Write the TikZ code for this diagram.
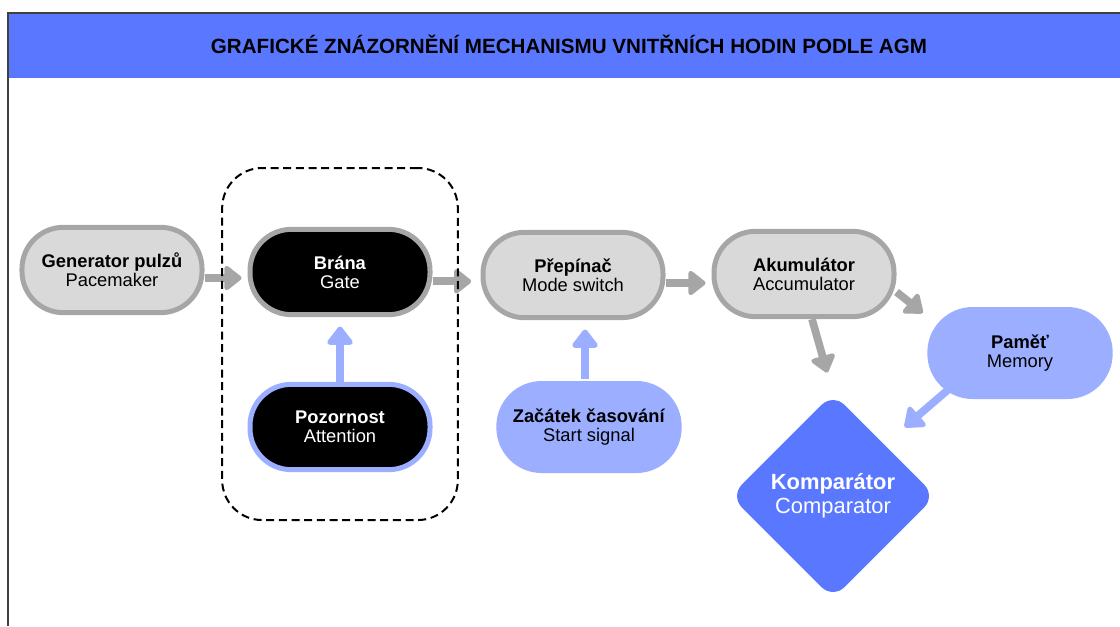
\documentclass[tikz,border=0pt]{standalone}
\usepackage{fontspec}
\setmainfont{Liberation Sans}
\usetikzlibrary{positioning,shapes.geometric,arrows.meta,fit,backgrounds}

\definecolor{agmblue}{HTML}{5A78FF}
\definecolor{agmlight}{HTML}{9BAEFF}
\definecolor{agmgray}{HTML}{D9D9D9}
\definecolor{agmedge}{HTML}{A6A6A6}

\begin{document}
\begin{tikzpicture}[x=0.75bp,y=-0.75bp,
                every node/.style={align=center,font=\fontsize{13.8}{14.5}\selectfont},
                box/.style={rectangle,rounded corners=31bp,minimum width=135bp,minimum height=64bp,line width=3.75bp,inner sep=0pt},
                greybox/.style={box,draw=agmedge,fill=agmgray},
                blackbox/.style={box,fill=black,text=white},
                softbox/.style={box,fill=agmlight,minimum width=139bp,minimum height=69bp,rounded corners=34bp},
                arr/.style={-{Triangle[length=14bp,width=21bp,round]},line width=5.8bp,draw=agmedge,line join=round},
                softarr/.style={arr,draw=agmlight,-{Triangle[length=15bp,width=22bp,round]}}]
            \useasboundingbox (0,0) rectangle (1120,626);
            \fill[agmblue] (8,13) rectangle (1120,78);
            \draw[line width=1bp,black!75] (8,626) -- (8,13) -- (1120,13);
            \node[font=\bfseries\fontsize{15.5}{18}\selectfont] (title) at (569,44) {GRAFICKÉ ZNÁZORNĚNÍ MECHANISMU VNITŘNÍCH HODIN PODLE AGM};

            \node[greybox] (gen) at (112,270) {\textbf{Generator pulzů}\\Pacemaker};
            \node[blackbox,draw=agmedge] (gate) at (340,272) {\textbf{Brána}\\Gate};
            \node[blackbox,draw=agmlight] (att) at (340,427) {\textbf{Pozornost}\\Attention};
            \node[greybox] (sw) at (573,275) {\textbf{Přepínač}\\Mode switch};
            \node[softbox] (start) at (589,427) {\textbf{Začátek časování}\\Start signal};
            \node[greybox] (acc) at (804,274) {\textbf{Akumulátor}\\Accumulator};
            \node[softbox] (mem) at (1020,353) {\textbf{Paměť}\\Memory};
            \node[diamond,aspect=1,minimum width=154bp,minimum height=154bp,inner sep=0pt,rounded corners=12bp,fill=agmblue,text=white,
                  font=\fontsize{16.5}{18}\selectfont] (comp) at (833,496) {\textbf{Komparátor}\\Comparator};

            \begin{scope}[on background layer]
                \draw[arr,shorten >=4.5bp] ([yshift=-6bp]gen.east) -- ([yshift=-6bp]gen.east -| gate.west);
                \draw[arr,shorten >=7bp] ([yshift=-7bp]gate.east) -- ([yshift=-7bp]gate.east -| sw.west);
                \draw[arr,shorten >=4.5bp] ([yshift=-6bp]sw.east) -- ([yshift=-6bp]sw.east -| acc.west);
                \draw[arr,shorten >=2bp] (acc.-11) -- (mem.158);
                \draw[arr,shorten >=16bp] ([xshift=6bp]acc.south) -- (comp.north);
                \draw[softarr,shorten >=7bp] (att.north) -- (gate.south);
                \draw[softarr,shorten >=7bp] ([xshift=-3bp]start.north) -- ([xshift=-3bp]start.north |- sw.south);
                \draw[softarr,shorten >=20bp] ([xshift=-22bp]mem.center) -- (comp.north east);
            \end{scope}

            \node[draw,line width=1.5bp,dash pattern=on 6bp off 3.5bp,rounded corners=30bp,
                  fit=(gate) (att),inner xsep=19bp,inner ysep=40bp,yshift=4.1bp] (group) {};
        \end{tikzpicture}
\end{document}
